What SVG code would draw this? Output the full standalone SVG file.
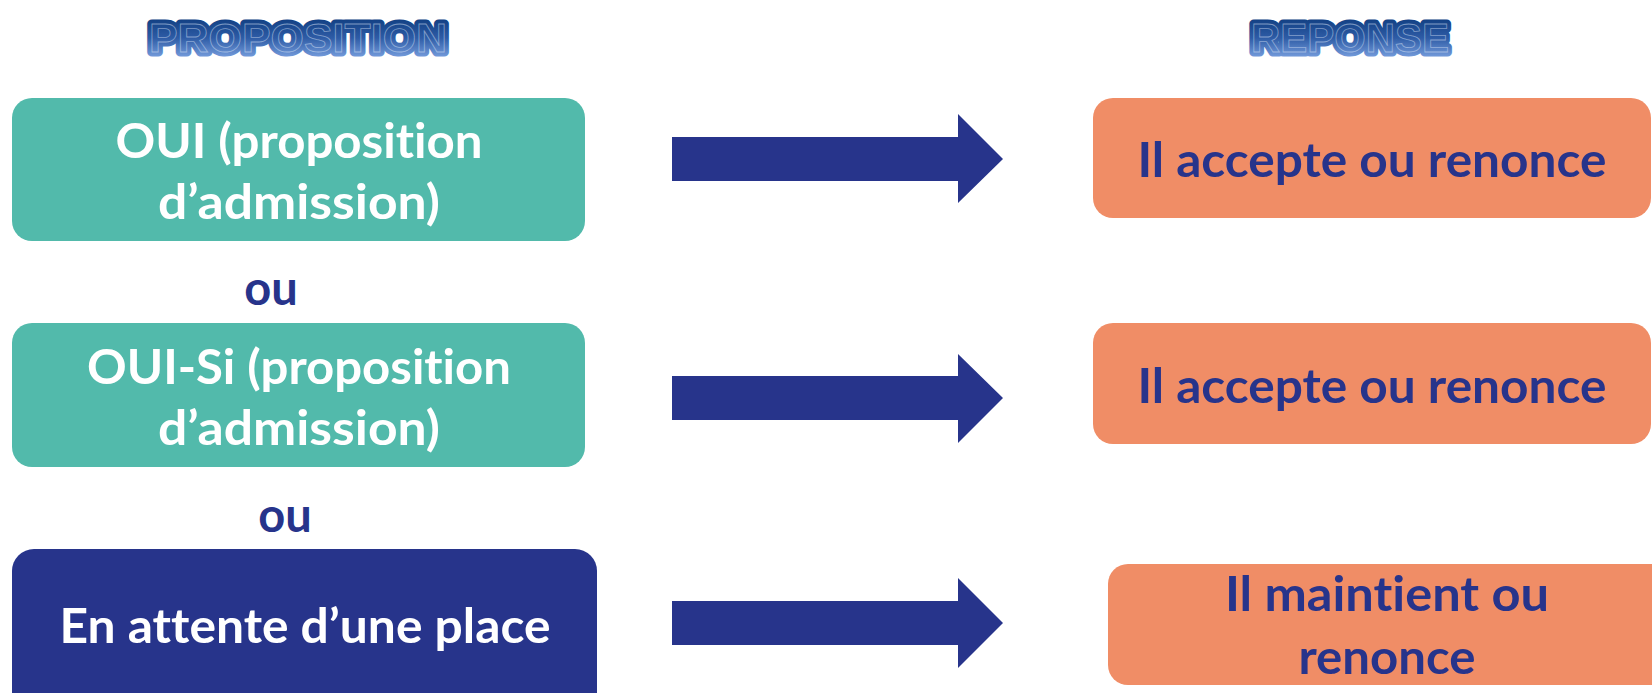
<svg xmlns="http://www.w3.org/2000/svg" width="1652" height="693" viewBox="0 0 1652 693">
<style>
.teal{fill:#52BAAB}
.navy{fill:#27348B}
.orange{fill:#F08D66}
.wt{fill:#FFFFFF;font-family:Lato,"Liberation Sans",sans-serif;font-weight:bold;font-size:47px;text-anchor:middle;font-variant-ligatures:none}
.bt{fill:#27348B;font-family:Lato,"Liberation Sans",sans-serif;font-weight:bold;font-size:47px;text-anchor:middle;font-variant-ligatures:none}
.title{font-family:"Liberation Sans",Arial,sans-serif;font-weight:bold;font-size:41px;text-anchor:middle;fill:url(#tg);stroke:url(#tg);stroke-width:9;stroke-linejoin:round}
.tline{font-family:"Liberation Sans",Arial,sans-serif;font-weight:bold;font-size:41px;text-anchor:middle;fill:none;stroke:#dfe8f8;stroke-opacity:0.5;stroke-width:0.8}
</style>
<defs>
<linearGradient id="tg" x1="0" y1="0" x2="0" y2="1">
<stop offset="0" stop-color="#0C3A7C"/>
<stop offset="0.5" stop-color="#2E5CA6"/>
<stop offset="1" stop-color="#82A8E6"/>
</linearGradient>
</defs>
<g id="title-proposition">
<text class="title" x="298" y="52" textLength="298" lengthAdjust="spacingAndGlyphs">PROPOSITION</text>
<text class="tline" x="298" y="52" textLength="298" lengthAdjust="spacingAndGlyphs">PROPOSITION</text>
</g>
<g id="title-reponse">
<text class="title" x="1350" y="52" textLength="198" lengthAdjust="spacingAndGlyphs">REPONSE</text>
<text class="tline" x="1350" y="52" textLength="198" lengthAdjust="spacingAndGlyphs">REPONSE</text>
</g>
<g id="prop-oui">
<rect class="teal" x="12" y="98" width="573" height="143" rx="20"/>
<text class="wt" x="299" y="158" textLength="367" lengthAdjust="spacingAndGlyphs">OUI (proposition</text>
<text class="wt" x="299" y="219" textLength="282" lengthAdjust="spacingAndGlyphs">d’admission)</text>
</g>
<g id="ou1"><text class="bt" x="271" y="305">ou</text></g>
<g id="prop-ouisi">
<rect class="teal" x="12" y="323" width="573" height="144" rx="20"/>
<text class="wt" x="299" y="384" textLength="424" lengthAdjust="spacingAndGlyphs">OUI-Si (proposition</text>
<text class="wt" x="299" y="445" textLength="282" lengthAdjust="spacingAndGlyphs">d’admission)</text>
</g>
<g id="ou2"><text class="bt" x="285" y="532">ou</text></g>
<g id="prop-attente">
<rect class="navy" x="12" y="549" width="585" height="170" rx="22"/>
<text class="wt" x="305" y="643" textLength="491" lengthAdjust="spacingAndGlyphs">En attente d’une place</text>
</g>
<g id="connectors">
<polygon class="navy" points="672,137 958,137 958,114 1003,159 958,203 958,181 672,181"/>
<polygon class="navy" points="672,376 958,376 958,354 1003,398 958,443 958,420 672,420"/>
<polygon class="navy" points="672,601 958,601 958,578 1003,623 958,668 958,645 672,645"/>
</g>
<g id="rep-1">
<rect class="orange" x="1093" y="98" width="558" height="120" rx="20"/>
<text class="bt" x="1372" y="177" textLength="469" lengthAdjust="spacingAndGlyphs">Il accepte ou renonce</text>
</g>
<g id="rep-2">
<rect class="orange" x="1093" y="323" width="558" height="121" rx="20"/>
<text class="bt" x="1372" y="403" textLength="469" lengthAdjust="spacingAndGlyphs">Il accepte ou renonce</text>
</g>
<g id="rep-3">
<rect class="orange" x="1108" y="564" width="580" height="121" rx="20"/>
<text class="bt" x="1387" y="611" textLength="324" lengthAdjust="spacingAndGlyphs">Il maintient ou</text>
<text class="bt" x="1387" y="674" textLength="177" lengthAdjust="spacingAndGlyphs">renonce</text>
</g>
</svg>
